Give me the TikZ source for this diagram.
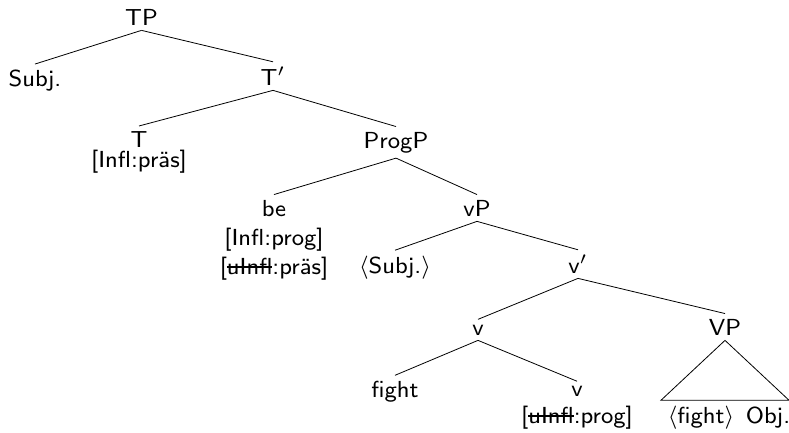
\documentclass[tikz,border=0pt]{standalone}
% struck-through feature name
\newcommand\strk[1]{{\setbox0\hbox{#1}\rlap{\rule[0.25em]{\wd0}{0.7pt}}\box0}}
\begin{document}
\begin{tikzpicture}[x=1pt,y=-1pt,
  tn/.style={font=\fontsize{8}{10}\selectfont\sffamily, scale=2.9, transform shape,
             inner xsep=0pt, inner ysep=1.65pt, anchor=base, align=center},
  edge/.style={line width=0.8pt}]
\useasboundingbox (0,0) rectangle (789,432);

% tree nodes (multi-line nodes are placed by the baseline of their last line)
\node[tn] (TP)    at (141.5,25) {TP};
\node[tn] (Subj)  at (35,86)    {Subj.};
\node[tn] (Tbar)  at (273,85)   {T$'$};
\node[tn] (T)     at (139,167)  {T\\[-3.2pt]{[}Infl:präs]};
\node[tn] (ProgP) at (396,148)  {ProgP};
\node[tn] (be)    at (274,274)  {be\\{[}Infl:prog]\\{[}\strk{uInfl}:präs]};
\node[tn] (vP)    at (477,216)  {vP};
\node[tn] (SubjT) at (395,273)  {$\langle$Subj.$\rangle$};
\node[tn] (vbar)  at (578,273)  {v$'$};
\node[tn] (v)     at (478,335)  {v};
\node[tn] (VP)    at (725,335)  {VP};
\node[tn] (fight) at (395,397)  {fight};
\node[tn] (vlow)  at (577,423)  {v\\[-1pt]{[}\strk{uInfl}:prog]};
\node[tn] (Obj)   at (729,423)  {$\langle$fight$\rangle$\hspace{4pt}Obj.};

% branches
\draw[edge] (TP.south) -- (Subj.north);
\draw[edge] (TP.south) -- (Tbar.north);
\draw[edge] (Tbar.south) -- (T.north);
\draw[edge] (Tbar.south) -- (ProgP.north);
\draw[edge] (ProgP.south) -- (be.north);
\draw[edge] (ProgP.south) -- (vP.north);
\draw[edge] (vP.south) -- (SubjT.north);
\draw[edge] (vP.south) -- (vbar.north);
\draw[edge] (vbar.south) -- (v.north);
\draw[edge] (vbar.south) -- (VP.north);
\draw[edge] (v.south) -- (fight.north);
\draw[edge] (v.south) -- (vlow.north);

% triangle over the VP content
\path ([xshift=-64pt]VP.south) coordinate (triL)
      ([xshift=64pt]VP.south) coordinate (triR);
\draw[edge] (VP.south) -- (triL |- Obj.north) -- (triR |- Obj.north) -- cycle;
\end{tikzpicture}
\end{document}
